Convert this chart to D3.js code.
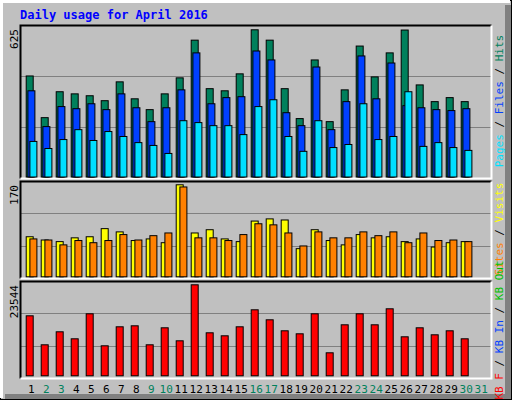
<!DOCTYPE html><html><head><meta charset="utf-8">
<script src="https://cdn.jsdelivr.net/npm/d3@7"></script>
<style>body{margin:0;background:#fff}svg{display:block}</style></head><body>
<script>
const days = d3.range(1,32);
const weekend = [2,3,9,10,16,17,23,24,30,31];
const hits  = [429,252,362,353,345,324,404,332,286,353,421,581,375,366,438,625,581,375,248,497,235,370,556,425,527,624,391,320,337,320];
const files = [366,214,299,290,311,286,353,294,235,294,370,527,311,337,341,535,497,273,218,467,201,320,514,332,484,303,294,286,282,290];
const pages = [151,121,159,201,155,193,172,146,134,100,239,231,218,218,180,299,328,172,109,239,125,138,311,159,172,362,130,146,125,113];
const visits= [74,68,65,72,74,89,83,67,70,63,170,81,87,70,65,103,107,105,52,87,67,59,78,72,74,65,70,55,63,65];
const sites = [70,68,59,67,63,67,78,68,76,81,166,72,72,67,78,98,96,81,57,83,72,72,83,76,83,63,81,67,68,65];
const kbytes= [15523,8021,11384,9573,16041,7762,12678,12936,8021,12419,9055,23544,11125,10349,12678,17076,14489,11643,10866,16041,5951,13195,16041,13195,17335,10090,12419,10608,11643,9573];
const C={hits:"#00805c",files:"#0040ff",pages:"#00e0ff",visits:"#ffff00",sites:"#ff8000",kb:"#ff0000",grid:"#808080"};
const W=512,H=400;
const svg=d3.select("body").append("svg").attr("width",W).attr("height",H);
svg.append("rect").attr("width",W).attr("height",H).attr("fill","#c0c0c0");
// bevel
svg.append("rect").attr("x",505).attr("y",5).attr("width",7).attr("height",395).attr("fill","#808080");
svg.append("rect").attr("x",5).attr("y",394).attr("width",507).attr("height",6).attr("fill","#808080");
svg.append("rect").attr("x",0.5).attr("y",0.5).attr("width",W-1).attr("height",H-1).attr("fill","none").attr("stroke","#000");
svg.append("path").attr("d","M1.5,398V1.5H510").attr("stroke","#fff").attr("fill","none").attr("stroke-width",3);
const font="'DejaVu Sans Mono',monospace";
svg.append("text").attr("x",20).attr("y",19).text("Daily usage for April 2016").attr("fill","#0000ff").attr("font-family",font).attr("font-weight","bold").attr("font-size",12);
const x=d3.scaleLinear().domain([1,2]).range([25.7,40.7]);
const px=d=>x(d);
function panel(top,bottom,base,maxTop,max,label){
  svg.append("rect").attr("x",20.5).attr("y",top+0.5).attr("width",471).attr("height",bottom-top).attr("fill","#c0c0c0");
  const h=bottom-top;
  [1,2].forEach(k=>svg.append("line").attr("x1",21).attr("x2",491).attr("y1",Math.round(top+h*k/3)+0.5).attr("y2",Math.round(top+h*k/3)+0.5).attr("stroke",C.grid));
  svg.append("path").attr("d",`M20.5,${bottom+0.5}V${top+0.5}H491.5`).attr("stroke","#000").attr("fill","none").attr("stroke-width",2);
  svg.append("path").attr("d",`M20.5,${bottom+0.5}H491.5V${top+0.5}`).attr("stroke","#fff").attr("fill","none").attr("stroke-width",2);
  svg.append("text").attr("transform",`translate(18,${top+4}) rotate(-90)`).attr("text-anchor","end").text(label).attr("font-family",font).attr("font-size",11).attr("fill","#000");
  return d3.scaleLinear().domain([0,max]).range([base,maxTop]);
}
function bars(data,y,off,color){
  svg.append("g").selectAll("rect").data(data).join("rect")
   .attr("x",(d,i)=>px(i+1)+off+0.5).attr("y",d=>y(d)+0.5).attr("width",7).attr("height",d=>y(0)-y(d))
   .attr("fill",color).attr("stroke","#000");
}
const y1=panel(25,178,176.5,29.3,625,"625");
bars(hits,y1,0,C.hits);bars(files,y1,1.7,C.files);bars(pages,y1,3.7,C.pages);
const y2=panel(181,278,276.3,184.3,170,"170");
bars(visits,y2,0,C.visits);bars(sites,y2,3.7,C.sites);
const y3=panel(281,378,375.3,284.3,23544,"23544");
bars(kbytes,y3,0,C.kb);
svg.append("g").selectAll("text").data(days).join("text")
 .attr("x",d=>px(d)+5.5).attr("y",393).attr("text-anchor","middle").text(d=>d)
 .attr("font-family",font).attr("font-size",11).attr("fill",d=>weekend.includes(d)?"#00805c":"#000");
function rlabel(yc,parts){
  const t=svg.append("text").attr("transform",`translate(503,${yc}) rotate(-90)`).attr("font-family",font).attr("font-size",11).attr("text-anchor","middle");
  parts.forEach(([s,c])=>t.append("tspan").text(s).attr("fill",c));
}
rlabel(101,[["Pages",C.pages],[" / ","#000"],["Files",C.files],[" / ","#000"],["Hits",C.hits]]);
rlabel(229,[["Sites",C.sites],[" / ","#000"],["Visits",C.visits]]);
rlabel(330,[["KB F",C.kb],[" / ","#000"],["KB In",C.files],[" / ","#000"],["KB Out","#00c000"]]);
</script></body></html>
